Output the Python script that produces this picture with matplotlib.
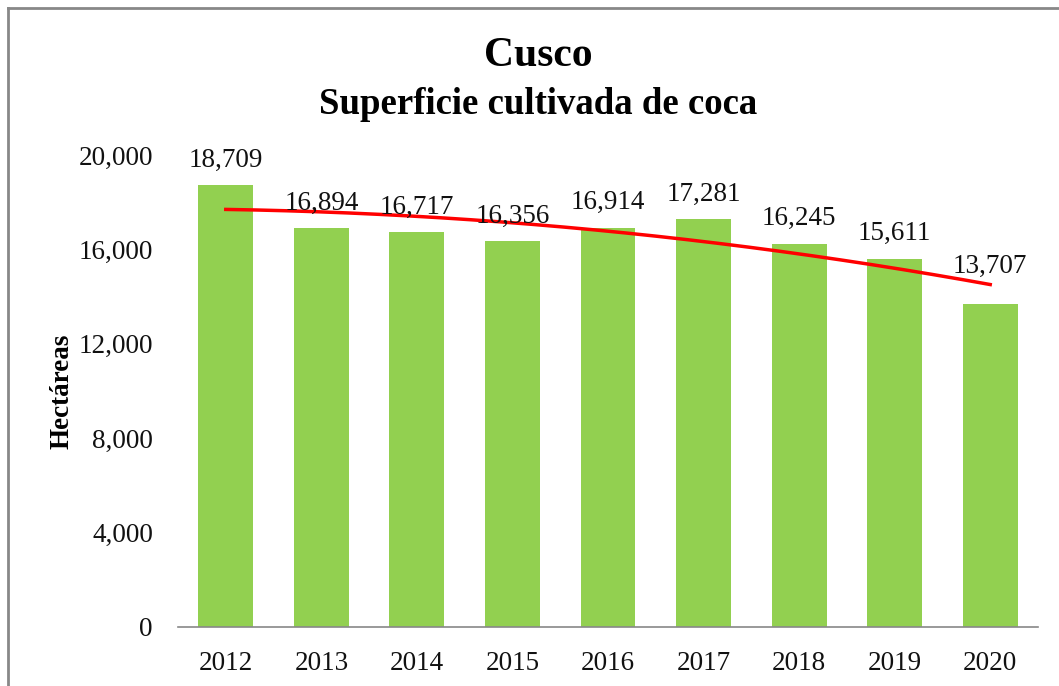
import numpy as np
import matplotlib
matplotlib.use("Agg")
import matplotlib.pyplot as plt
from matplotlib.lines import Line2D
from matplotlib.ticker import FuncFormatter

years = ["2012", "2013", "2014", "2015", "2016", "2017", "2018", "2019", "2020"]
values = [18709, 16894, 16717, 16356, 16914, 17281, 16245, 15611, 13707]
yticks = [0, 4000, 8000, 12000, 16000, 20000]

plt.rcParams['font.family'] = ['Liberation Serif', 'DejaVu Serif']

fig = plt.figure(figsize=(10.59, 6.86), dpi=100)
ax = fig.add_axes([178/1059, 1 - 627/686, (1038-178)/1059, (627-155)/686])

x = np.arange(len(years))
ax.bar(x, values, width=0.575, color="#92D050", zorder=2)

# polynomial (order 2) trend line, as in the spreadsheet
coef = np.polyfit(x, values, 2)
xt = np.linspace(0, len(years) - 1, 200)
ax.plot(xt, np.polyval(coef, xt), color="#FF0000", lw=2.5, zorder=3)

label_offsets = [9] * (len(years) - 1) + [18]
for xi, v, off in zip(x, values, label_offsets):
    ax.annotate(f"{v:,}", (xi, v), xytext=(0, off), textcoords="offset points",
                ha="center", va="bottom", fontsize=19.5, color="#111111", zorder=4)

ax.set_xlim(-0.5, len(years) - 0.5)
ax.set_ylim(0, 20000)
ax.set_yticks(yticks)
ax.yaxis.set_major_formatter(FuncFormatter(lambda v, p: f"{int(v):,}"))
ax.set_xticks(x)
ax.set_xticklabels(years)
ax.tick_params(axis="both", length=0, labelsize=19.5, colors="#111111")
ax.tick_params(axis="x", pad=17)
ax.tick_params(axis="y", pad=18)
for s in ["top", "right", "left"]:
    ax.spines[s].set_visible(False)
ax.spines["bottom"].set_color("#888888")
ax.spines["bottom"].set_linewidth(1.2)

ax.set_ylabel("Hectáreas", fontsize=19.5, fontweight="bold", labelpad=3)

fig.text(538/1059, 1 - 56/686, "Cusco", ha="center", va="center",
         fontsize=30, fontweight="bold")
fig.text(538/1059, 1 - 104/686, "Superficie cultivada de coca", ha="center",
         va="center", fontsize=26.5, fontweight="bold")

# chart border (left and top edges visible)
fig.add_artist(Line2D([8/1059, 8/1059], [0, 1 - 8/686], transform=fig.transFigure,
                      color="#888888", lw=2))
fig.add_artist(Line2D([8/1059, 1], [1 - 8/686, 1 - 8/686], transform=fig.transFigure,
                      color="#888888", lw=2))

fig.savefig("out.png", dpi=100)
